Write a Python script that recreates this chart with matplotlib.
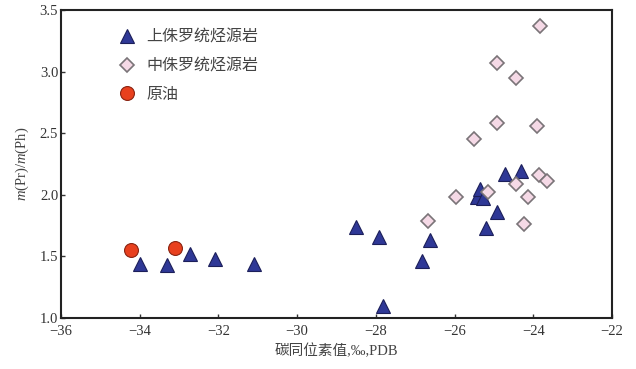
import matplotlib
matplotlib.use("Agg")
import matplotlib.pyplot as plt

# carbon isotope (‰, PDB) vs Pr/Ph
upper_x = [-33.99, -33.31, -32.72, -32.09, -31.10, -28.51, -27.93, -27.81,
           -26.82, -26.62, -25.20, -24.92, -25.44, -25.35, -25.28, -24.72, -24.32]
upper_y = [1.44, 1.43, 1.52, 1.48, 1.44, 1.74, 1.66, 1.10,
           1.46, 1.63, 1.73, 1.86, 1.98, 2.05, 1.97, 2.17, 2.19]

middle_x = [-23.83, -24.92, -24.44, -24.92, -23.91, -25.51, -23.86, -23.66,
            -24.44, -25.96, -25.14, -24.13, -26.68, -24.24]
middle_y = [3.37, 3.07, 2.95, 2.58, 2.56, 2.45, 2.16, 2.11,
            2.09, 1.98, 2.02, 1.98, 1.79, 1.76]

oil_x = [-34.22, -33.10]
oil_y = [1.55, 1.57]

labels = ["上侏罗统烃源岩", "中侏罗统烃源岩", "原油"]
xticks = [-36, -34, -32, -30, -28, -26, -24, -22]
yticks = [1.0, 1.5, 2.0, 2.5, 3.0, 3.5]

serif = ["Liberation Serif", "Noto Sans CJK SC"]
cjk = ["Noto Sans CJK SC", "DejaVu Sans"]
plt.rcParams["mathtext.fontset"] = "custom"
plt.rcParams["mathtext.it"] = "Liberation Serif:italic"
plt.rcParams["mathtext.rm"] = "Liberation Serif"

fig = plt.figure(figsize=(6.36, 3.69), dpi=100)
ax = fig.add_axes([0.0959, 0.1382, 0.8664, 0.8347])

ax.plot(upper_x, upper_y, ls="none", marker="^", ms=10.5, mfc="#2f3896",
        mec="#1c1f5a", mew=0.8, label=labels[0], zorder=3)
ax.plot(middle_x, middle_y, ls="none", marker="D", ms=7.5, mfc="#f5d9e6",
        mec="#7a7478", mew=1.2, label=labels[1], zorder=4)
ax.plot(oil_x, oil_y, ls="none", marker="o", ms=10, mfc="#e8401e",
        mec="#8a2412", mew=0.8, label=labels[2], zorder=3)

ax.set_xlim(-36, -22)
ax.set_ylim(1.0, 3.5)
ax.set_xticks(xticks)
ax.set_yticks(yticks)
ax.set_xticklabels([f"\u2212{abs(v)}" for v in xticks], family=serif, fontsize=10.5)
ax.set_yticklabels([f"{v:.1f}" for v in yticks], family=serif, fontsize=10.5)
ax.tick_params(direction="in", length=3, width=1, colors="#333333", pad=2)
ax.tick_params(axis="x", pad=5)

for s in ax.spines.values():
    s.set_linewidth(1.5)
    s.set_color("#222222")

ax.set_xlabel("碳同位素值,‰,PDB", family=serif, fontsize=10.5, color="#444444", labelpad=4)
ax.set_ylabel(r"$m$(Pr)/$m$(Ph)", family=serif, fontsize=10.5, color="#444444", labelpad=6)

leg = ax.legend(loc="upper left", bbox_to_anchor=(0.074, 0.97), frameon=False,
                prop={"family": cjk, "size": 11.5}, handletextpad=0.2,
                labelspacing=0.72, borderaxespad=0.2)
for t in leg.get_texts():
    t.set_color("#444444")

fig.savefig("out.png", dpi=100)
